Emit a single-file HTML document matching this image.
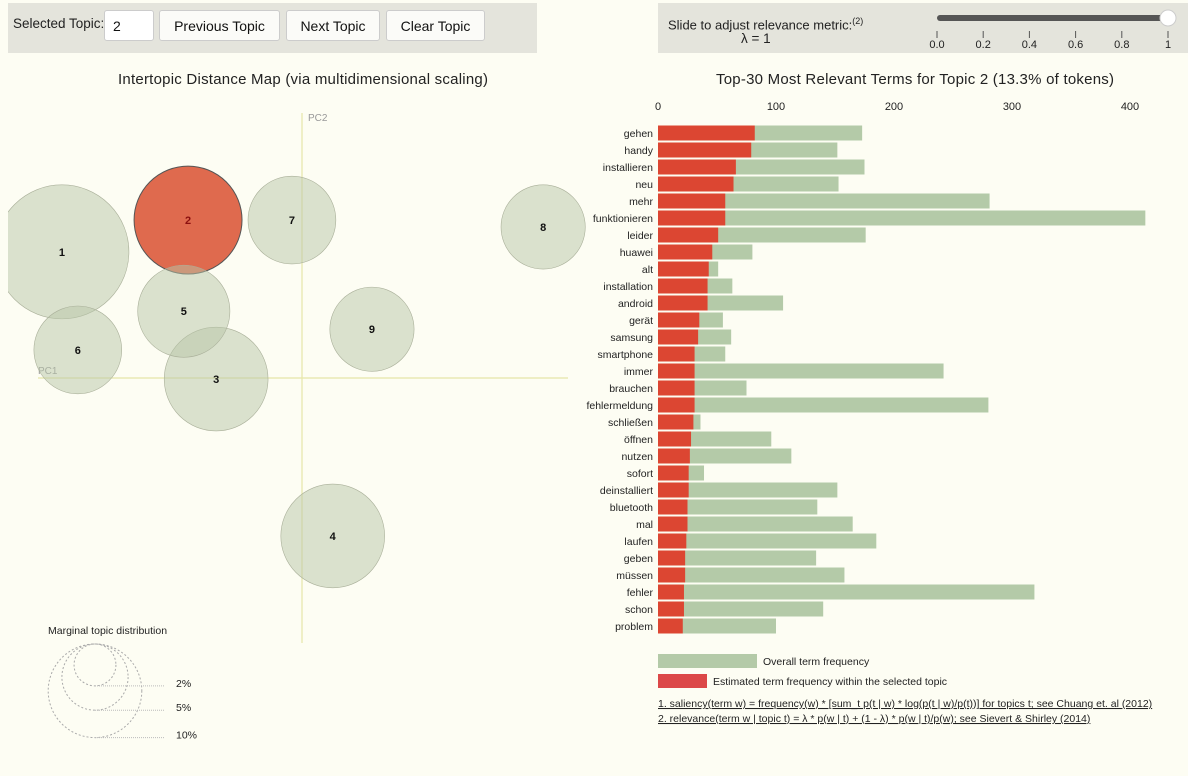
<!DOCTYPE html>
<html><head><meta charset="utf-8">
<style>
body{margin:0;width:1188px;height:776px;background:#fdfdf3;font-family:"Liberation Sans",sans-serif;overflow:hidden;position:relative}
.panel{position:absolute;background:#e4e4dc}
.btn{position:absolute;top:10px;height:31px;background:#fbfbf8;border:1px solid #ccc;border-radius:3px;font-size:14px;line-height:31px;text-align:center;color:#111;box-sizing:border-box}
svg{position:absolute;left:0;top:0}
</style></head><body>
<div class="panel" style="left:8px;top:3px;width:529px;height:50px"></div>
<div style="position:absolute;left:13px;top:16px;font-size:13.5px;color:#222">Selected Topic:</div>
<div class="btn" style="left:104px;width:50px;text-align:left;padding-left:8px;background:#fff">2</div>
<div class="btn" style="left:159px;width:121px">Previous Topic</div>
<div class="btn" style="left:286px;width:94px">Next Topic</div>
<div class="btn" style="left:386px;width:99px">Clear Topic</div>
<div class="panel" style="left:658px;top:3px;width:530px;height:50px"></div>
<div style="position:absolute;left:668px;top:16px;font-size:13px;color:#222">Slide to adjust relevance metric:<sup style="font-size:9px">(2)</sup></div>
<div style="position:absolute;left:741px;top:31px;font-size:13.5px;color:#222">λ = 1</div>
<svg width="1188" height="776" id="main">
<rect x="937" y="15" width="231" height="6" rx="3" fill="#555"/>
<circle cx="1168" cy="18" r="8" fill="#fff" stroke="#ccc"/>
<g id="sliderTicks" font-size="11" fill="#222" text-anchor="middle"></g>
<text x="303" y="84" font-size="15" text-anchor="middle" fill="#222" textLength="370">Intertopic Distance Map (via multidimensional scaling)</text>
<text x="915" y="84" font-size="15" text-anchor="middle" fill="#222" textLength="398">Top-30 Most Relevant Terms for Topic 2 (13.3% of tokens)</text>
<line x1="302" y1="113" x2="302" y2="643" stroke="#e6e6a8" stroke-width="1.2"/>
<line x1="38" y1="378" x2="568" y2="378" stroke="#e6e6a8" stroke-width="1.2"/>
<text x="308" y="121" font-size="10" fill="#999">PC2</text>
<text x="38" y="374" font-size="10" fill="#999">PC1</text>
<clipPath id="mapclip"><rect x="8" y="95" width="590" height="560"/></clipPath>
<g id="circles" clip-path="url(#mapclip)"></g>
<g id="legendCircles"></g>
<text x="48" y="634" font-size="10.5" fill="#222">Marginal topic distribution</text>
<g id="bars"></g>
<rect x="658" y="654" width="99" height="14" fill="#b4caa8"/>
<text x="763" y="665" font-size="10.5" fill="#222">Overall term frequency</text>
<rect x="658" y="674" width="49" height="14" fill="#dc4848"/>
<text x="713" y="685" font-size="10.5" fill="#222">Estimated term frequency within the selected topic</text>
<text x="658" y="707" font-size="10.5" fill="#222" text-decoration="underline">1. saliency(term w) = frequency(w) * [sum_t p(t | w) * log(p(t | w)/p(t))] for topics t; see Chuang et. al (2012)</text>
<text x="658" y="722" font-size="10.5" fill="#222" text-decoration="underline">2. relevance(term w | topic t) = λ * p(w | t) + (1 - λ) * p(w | t)/p(w); see Sievert &amp; Shirley (2014)</text>
</svg>
<script>
const NS="http://www.w3.org/2000/svg";
const topicIds=[1,2,3,4,5,6,7,8,9];
const topicX=[-0.453,-0.215,-0.162,0.058,-0.223,-0.423,-0.019,0.455,0.132];
const topicY=[0.238,0.298,-0.002,-0.298,0.126,0.053,0.298,0.285,0.092];
const topicPct=[20.5,13.3,12.3,12.3,9.7,8.8,8.8,8.1,8.1];
const selectedTopic=2;
const legendPct=[10,5,2];
const terms=["gehen","handy","installieren","neu","mehr","funktionieren","leider","huawei","alt","installation","android","gerät","samsung","smartphone","immer","brauchen","fehlermeldung","schließen","öffnen","nutzen","sofort","deinstalliert","bluetooth","mal","laufen","geben","müssen","fehler","schon","problem"];
const overallFreq=[173,152,175,153,281,413,176,80,51,63,106,55,62,57,242,75,280,36,96,113,39,152,135,165,185,134,158,319,140,100];
const topicFreq=[82,79,66,64,57,57,51,46,43,42,42,35,34,31,31,31,31,30,28,27,26,26,25,25,24,23,23,22,22,21];
const xTicks=[0,100,200,300,400];
const sliderTicks=["0.0","0.2","0.4","0.6","0.8","1"];

function el(tag,attrs,parent){const e=document.createElementNS(NS,tag);for(const k in attrs)e.setAttribute(k,attrs[k]);parent.appendChild(e);return e;}
const mx=v=>302+v*530, my=v=>378-v*530, rad=p=>148*Math.sqrt(p/100);
const bx=v=>658+v*1.18, by=i=>133+i*17;

const st=document.getElementById('sliderTicks');
sliderTicks.forEach((t,i)=>{const x=937+i*46.2;
 const l=el('line',{x1:x,y1:31,x2:x,y2:38,stroke:'#555'},st);
 
 
 const tx=el('text',{x:x,y:48},st);tx.textContent=t;
 
 
});

const cg=document.getElementById('circles');
topicIds.forEach((id,i)=>{
 const sel=id===selectedTopic;
 const c=el('circle',{cx:mx(topicX[i]),cy:my(topicY[i]),r:rad(topicPct[i]),fill:sel?'#dc5a3c':'#b8c6a8','fill-opacity':sel?0.9:0.5,stroke:sel?'#555':'#aab09a','stroke-width':sel?1:0.6},cg);
 
 
});
topicIds.forEach((id,i)=>{
 const t=el('text',{x:mx(topicX[i]),y:my(topicY[i])+4,'font-size':11,'font-weight':'bold','text-anchor':'middle',fill:id===selectedTopic?'#8b1010':'#111'},cg);
 t.textContent=id;
 
 
});

const lg=document.getElementById('legendCircles');
legendPct.forEach(p=>{const r=rad(p),top=644,cy=top+r;
 const c=el('circle',{cx:95,cy:cy,r:r,fill:'none',stroke:'#aaa','stroke-dasharray':'2 2'},lg);
 
 
 const l=el('line',{x1:95,y1:cy+r,x2:165,y2:cy+r,stroke:'#bbb','stroke-dasharray':'1 1'},lg);
 
 
 const t=el('text',{x:176,y:cy+r+1,'font-size':10.5,fill:'#222'},lg);t.textContent=p+'%';
 
 
});

const bg=document.getElementById('bars');
xTicks.forEach(v=>{const t=el('text',{x:bx(v),y:110,'font-size':11,'text-anchor':'middle',fill:'#222'},bg);t.textContent=v;
 
 });
terms.forEach((term,i)=>{const y=by(i);
 const o=el('rect',{x:bx(0),y:y-7.5,width:bx(overallFreq[i])-bx(0),height:15,fill:'#b4caa8'},bg);
 
 
 const r=el('rect',{x:bx(0),y:y-7.5,width:bx(topicFreq[i])-bx(0),height:15,fill:'#dc4632'},bg);
 
 
 const t=el('text',{x:653,y:y+4,'font-size':10.5,'text-anchor':'end',fill:'#222'},bg);t.textContent=term;
 
 
});
</script>
</body></html>
